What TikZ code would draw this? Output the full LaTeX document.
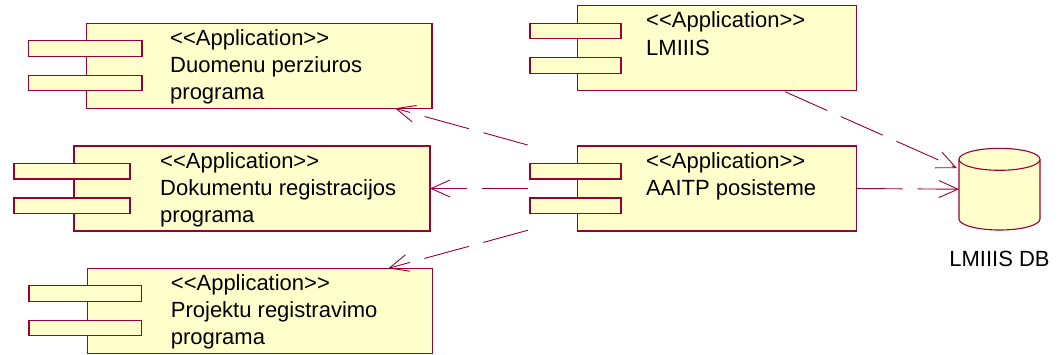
\documentclass[tikz,border=0pt]{standalone}
\usepackage{fontspec}
\setmainfont{Liberation Sans}[Ligatures=TeXOff]
\usetikzlibrary{arrows.meta,calc}

\definecolor{umlfill}{RGB}{255,255,204}
\definecolor{umlline}{RGB}{153,0,51}

% one UML component: name, x, y (top left), width, tab overhang, tab width, text offset, label
\newcommand\appcomp[8]{%
  \node[compbox, minimum width=#4pt, anchor=north west] (#1) at (#2,#3) {};
  \node[tabbox, minimum width=#6pt, anchor=north west] (#1-t1) at ($(#1.north west)+(-#5,17.5)$) {};
  \node[tabbox, minimum width=#6pt, anchor=north west] (#1-t2) at ($(#1.north west)+(-#5,52)$) {};
  \node[comptext] (#1-txt) at ($(#1.north west)+(#7,22)$)
    {\begin{tabular}[t]{@{}l@{}}#8\end{tabular}};
}

\begin{document}
\begin{tikzpicture}[x=1pt, y=-1pt,
  compbox/.style={draw=umlline, fill=umlfill, line width=1.1pt, minimum height=85pt, inner sep=0pt, outer sep=0pt},
  tabbox/.style={draw=umlline, fill=umlfill, line width=1.1pt, minimum height=15.5pt, inner sep=0pt, outer sep=0pt},
  comptext/.style={anchor=base west, inner sep=0pt, text=black,
    font=\fontsize{22pt}{27.3pt}\selectfont},
  dep/.style={draw=umlline, line width=0.9pt, dash pattern=on 46pt off 15pt,
    -{Straight Barb[length=19pt,width=17pt]}},
  dbshape/.style={draw=umlline, fill=umlfill, line width=1.1pt}
]
\useasboundingbox (0,0) rectangle (1058,354);

\appcomp{duom}{86.7}{23.3}{345.3}{58.4}{113.7}{83.3}{<<Application>>\\Duomenu perziuros\\programa}
\appcomp{lmiiis}{577.3}{5.7}{279.4}{47.3}{91}{68.7}{<<Application>>\\LMIIIS}
\appcomp{dok}{74}{146}{356}{60}{116}{86}{<<Application>>\\Dokumentu registracijos\\programa}
\appcomp{proj}{87.3}{268.3}{345.4}{58.3}{112.7}{83.4}{<<Application>>\\Projektu registravimo\\programa}
\appcomp{aaitp}{577.3}{146}{279.4}{47.3}{91}{68.7}{<<Application>>\\AAITP posisteme}

% database cylinder
\node[minimum width=81pt, minimum height=81.7pt, inner sep=0pt, outer sep=0pt] (db) at (999.5,189.2) {};
\fill[umlfill] (959,159.3) -- (959,219)
  arc[start angle=180, end angle=360, x radius=40.5pt, y radius=11pt] -- (1040,159.3) -- cycle;
\draw[umlline, line width=1.1pt] (959,159.3) -- (959,219)
  arc[start angle=180, end angle=360, x radius=40.5pt, y radius=11pt] -- (1040,159.3);
\path[dbshape] (999.5,159.3) ellipse[x radius=40.5pt, y radius=11pt];
\node[anchor=base, inner sep=0pt, font=\fontsize{22pt}{27.3pt}\selectfont] (dblabel) at ($(db.south)+(0,36)$) {LMIIIS DB};

% dependencies
\draw[dep] ($(aaitp.north west)+(-49.6,-1)$) -- ($(duom.south)+(135.7,0)$);
\draw[dep] ($(aaitp.west)+(-49,0)$) -- (dok.east);
\draw[dep] ($(aaitp.south west)+(-49.6,-0.7)$) -- ($(proj.north)+(128.3,0)$);
\draw[dep] (aaitp.east) -- (db.west);
\draw[dep] ($(lmiiis.south)+(68,1)$) -- ($(db.west)+(-2,-21)$);
\end{tikzpicture}
\end{document}
